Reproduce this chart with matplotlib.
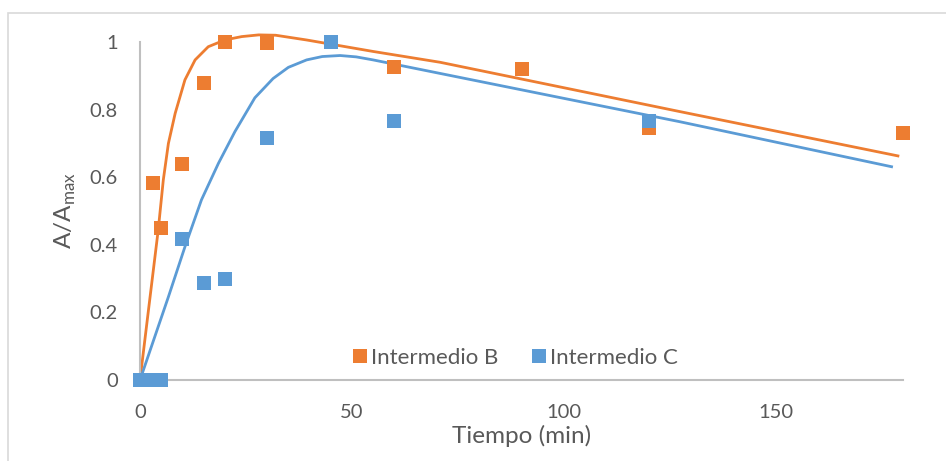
"""
Cinética de intermedios B y C — A/Amax frente al tiempo
"""

import matplotlib.pyplot as plt
from matplotlib.patches import Rectangle

# ─── Datos experimentales ─────────────────────────────────────────────────────

t_b = [0, 3, 5, 10, 15, 20, 30, 60, 90, 120, 180]
a_b = [0, 0.584, 0.45, 0.64, 0.88, 1.0, 0.996, 0.926, 0.92, 0.745, 0.73]

t_c = [0, 3, 5, 10, 15, 20, 30, 45, 60, 120]
a_c = [0, 0, 0, 0.416, 0.286, 0.299, 0.715, 1.0, 0.766, 0.767]

# ─── Curvas de ajuste ─────────────────────────────────────────────────────────

fit_t_b = [0, 2.0, 4.3, 5.5, 6.7, 8.3, 10.6, 13.0, 16.1, 20.0, 24.0, 28.0,
           32.0, 39.3, 55.0, 70.8, 127.4, 178.8]
fit_a_b = [0, 0.207, 0.444, 0.592, 0.700, 0.789, 0.888, 0.947, 0.986, 1.006,
           1.016, 1.021, 1.020, 1.006, 0.972, 0.940, 0.794, 0.663]

fit_t_c = [0, 6.7, 10.6, 14.5, 18.5, 22.4, 27.1, 31.4, 35.0, 39.3, 43.0,
           47.2, 51.0, 55.0, 70.8, 127.4, 177.3]
fit_a_c = [0, 0.246, 0.394, 0.533, 0.641, 0.735, 0.835, 0.892, 0.925, 0.947,
           0.957, 0.960, 0.956, 0.947, 0.907, 0.764, 0.631]

ORANGE = "#ED7D31"
BLUE = "#5B9BD5"
GREY_TXT = "#595959"
GREY_AX = "#BFBFBF"

plt.rcParams["font.family"] = ["Lato", "DejaVu Sans"]

fig = plt.figure(figsize=(9.46, 4.61), dpi=100)
ax = fig.add_axes([140 / 946, 81 / 461, 763 / 946, 338 / 461])

# cadre extérieur du graphique
fig.patches.append(Rectangle((8 / 946, -0.1), 1.1, 1.1 - 13 / 461,
                             transform=fig.transFigure, fill=False,
                             edgecolor="#D9D9D9", linewidth=1.2))

ax.plot(fit_t_b, fit_a_b, color=ORANGE, lw=2.0, clip_on=False, zorder=2)
ax.plot(fit_t_c, fit_a_c, color=BLUE, lw=2.0, clip_on=False, zorder=2)
ax.plot(t_b, a_b, "s", color=ORANGE, ms=10, mew=0, clip_on=False, zorder=3,
        label="Intermedio B")
ax.plot(t_c, a_c, "s", color=BLUE, ms=10, mew=0, clip_on=False, zorder=4,
        label="Intermedio C")

ax.set_xlim(0, 180)
ax.set_ylim(0, 1)
ax.set_xticks([0, 50, 100, 150])
ax.set_yticks([0, 0.2, 0.4, 0.6, 0.8, 1])
ax.set_yticklabels(["0", "0.2", "0.4", "0.6", "0.8", "1"])
ax.tick_params(length=0, labelsize=14.5, labelcolor=GREY_TXT)
ax.tick_params(axis="x", pad=17)
ax.tick_params(axis="y", pad=16)

for side in ("top", "right"):
    ax.spines[side].set_visible(False)
for side in ("left", "bottom"):
    ax.spines[side].set_color(GREY_AX)
    ax.spines[side].set_linewidth(1.5)

ax.set_xlabel("Tiempo (min)", fontsize=17.5, color=GREY_TXT, labelpad=3)
ax.set_ylabel(r"A/A$_{\mathregular{max}}$", fontsize=17.5, color=GREY_TXT,
              labelpad=8)

ax.legend(loc="center", bbox_to_anchor=(0.49, 0.065), ncol=2, frameon=False,
          fontsize=16, labelcolor=GREY_TXT, handletextpad=0.05,
          columnspacing=1.4, handlelength=0.9, markerscale=1.0)

fig.savefig("out.png", dpi=100, facecolor="white")
